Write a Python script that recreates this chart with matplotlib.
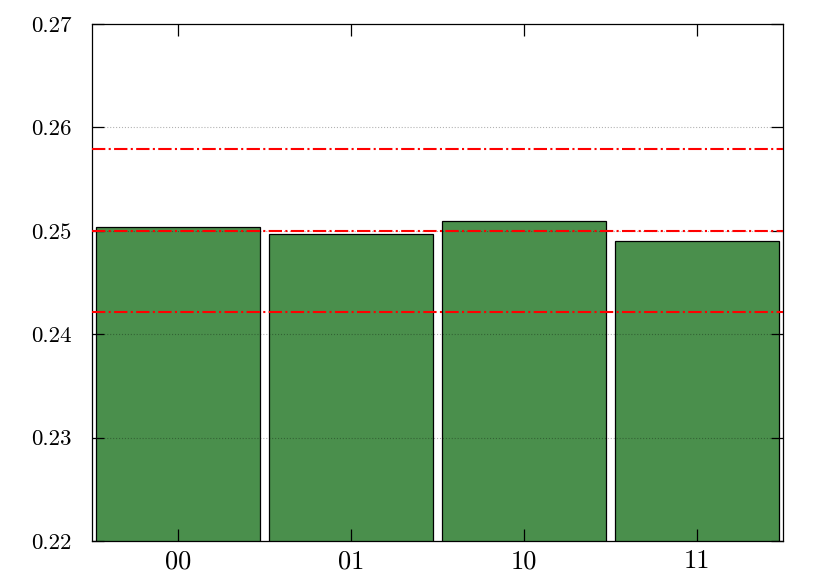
import matplotlib
matplotlib.use('Agg')
import matplotlib.pyplot as plt
import numpy as np

categories = ['00', '01', '10', '11']
probabilities = [0.25037, 0.24969, 0.25095, 0.24901]
reference_lines = [0.25791, 0.25, 0.24215]
yticks = [0.22, 0.23, 0.24, 0.25, 0.26, 0.27]

plt.rcParams['font.family'] = 'serif'
plt.rcParams['font.serif'] = ['cmr10']
plt.rcParams['axes.formatter.use_mathtext'] = True

fig = plt.figure(figsize=(8.31, 5.82), dpi=100)
ax = fig.add_axes([0.1107, 0.0704, 0.8315, 0.8884])

x = np.arange(len(categories))
ax.bar(x, probabilities, width=0.95, color='#4a8f4c', edgecolor='black',
       linewidth=0.9, zorder=1)

for val in reference_lines:
    ax.axhline(val, color='red', linestyle='-.', linewidth=1.5, zorder=3)

ax.set_xlim(-0.5, 3.5)
ax.set_ylim(0.22, 0.27)
ax.set_xticks(x)
ax.set_xticklabels(categories, fontsize=19)
ax.set_yticks(yticks)
ax.set_yticklabels(['%.2f' % t for t in yticks], fontsize=16.5)

# grid sits over the bars, semi-transparent so it darkens the green
ax.grid(axis='y', color='black', alpha=0.3, linestyle=':', linewidth=0.8, zorder=2)
gl = ax.get_ygridlines()
gl[0].set_visible(False)
gl[-1].set_visible(False)
ax.set_axisbelow(False)
ax.tick_params(direction='in', length=8.5, width=0.9, top=True, right=True)
ax.tick_params(axis='y', pad=15)
ax.tick_params(axis='x', pad=6)
for spine in ax.spines.values():
    spine.set_linewidth(0.9)

plt.savefig('out.png', dpi=100)
